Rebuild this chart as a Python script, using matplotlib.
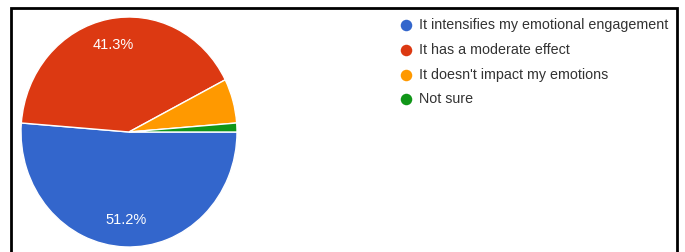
import matplotlib
matplotlib.use("Agg")
import matplotlib.pyplot as plt

plt.rcParams['font.family'] = ['Liberation Sans', 'DejaVu Sans']

# responses (n = 80)
labels = ["It intensifies my emotional engagement", "It has a moderate effect",
          "It doesn't impact my emotions", "Not sure"]
counts = [41, 33, 5, 1]
pct_labels = ["51.2%", "41.3%", "", ""]  # as shown on the chart (small slices unlabeled)
colors = ["#3366CC", "#DC3912", "#FF9900", "#109618"]

W, H = 685, 252
fig = plt.figure(figsize=(W / 100, H / 100), dpi=100)

# pie (centre ~ (129,132) px, rx 108, ry 115)
cx, cy, rx, ry = 129, 132, 108, 115
ax = fig.add_axes([(cx - rx) / W, 1 - (cy + ry) / H, 2 * rx / W, 2 * ry / H])

wedges, texts, autotexts = ax.pie(counts, colors=colors, startangle=0, counterclock=False,
                                  autopct='%1.1f%%', pctdistance=0.77,
                                  wedgeprops=dict(edgecolor='white', linewidth=1.0),
                                  textprops=dict(color='white', fontsize=10.5))
for t, s in zip(autotexts, pct_labels):
    t.set_text(s)
ax.set_aspect('auto')
ax.set_xlim(-1, 1)
ax.set_ylim(-1, 1)
for w in wedges:
    w.set_clip_on(False)

# overlay in pixel coords: border + legend
ov = fig.add_axes([0, 0, 1, 1], facecolor='none')
ov.set_xlim(0, W)
ov.set_ylim(H, 0)
ov.axis('off')
ov.plot([11, 11, 677, 677], [H + 2, 8, 8, H + 2], color='black', lw=2, solid_joinstyle='miter')

leg_y = [25, 50, 75, 99]
for lab, col, y in zip(labels, colors, leg_y):
    ov.plot(406, y, 'o', color=col, markersize=8.3, markeredgewidth=0)
    ov.text(419, y, lab, fontsize=10.3, color='#333333', va='center', ha='left')

fig.savefig("out.png", dpi=100)
